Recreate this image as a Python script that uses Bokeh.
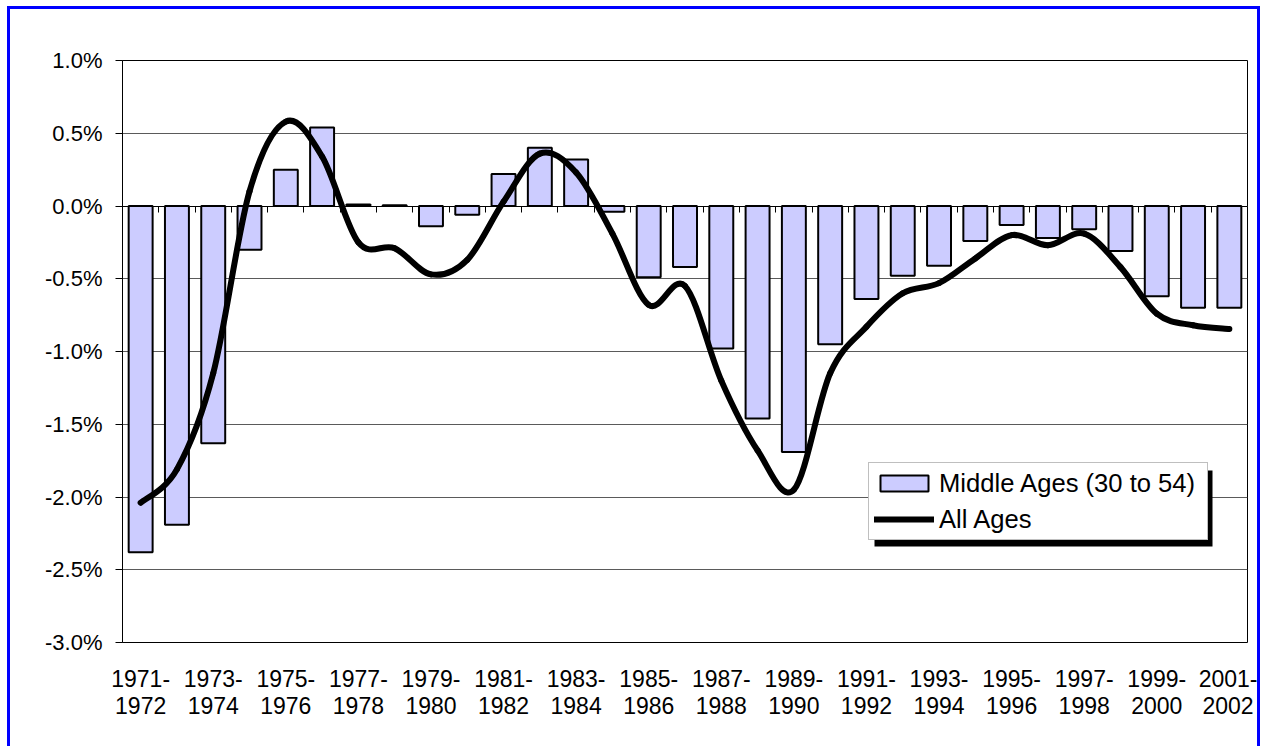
from bokeh.plotting import figure
from bokeh.models import (ColumnDataSource, FixedTicker, PrintfTickFormatter, LinearAxis,
                          Legend, LegendItem, Range1d, CustomLabelingPolicy, BoxAnnotation)
from bokeh.embed import file_html
from bokeh.resources import INLINE

# ---------------- data ----------------
periods = ["1971-1972", "1972-1973", "1973-1974", "1974-1975", "1975-1976", "1976-1977",
           "1977-1978", "1978-1979", "1979-1980", "1980-1981", "1981-1982", "1982-1983",
           "1983-1984", "1984-1985", "1985-1986", "1986-1987", "1987-1988", "1988-1989",
           "1989-1990", "1990-1991", "1991-1992", "1992-1993", "1993-1994", "1994-1995",
           "1995-1996", "1996-1997", "1997-1998", "1998-1999", "1999-2000", "2000-2001",
           "2001-2002"]

middle_ages = [-2.38, -2.19, -1.63, -0.30, 0.25, 0.54, 0.01, 0.005, -0.14, -0.06,
               0.22, 0.40, 0.32, -0.04, -0.49, -0.42, -0.98, -1.46, -1.69, -0.95,
               -0.64, -0.48, -0.41, -0.24, -0.13, -0.22, -0.16, -0.31, -0.62, -0.70,
               -0.70]

all_ages = [-2.04, -1.81, -1.15, 0.10, 0.58, 0.34, -0.25, -0.29, -0.47, -0.37,
            0.03, 0.36, 0.23, -0.19, -0.68, -0.55, -1.20, -1.68, -1.95, -1.15,
            -0.83, -0.60, -0.53, -0.36, -0.20, -0.27, -0.19, -0.42, -0.74, -0.82,
            -0.845]

y_ticks = [-3.0, -2.5, -2.0, -1.5, -1.0, -0.5, 0.0, 0.5, 1.0]
label_every = 2

FONT = "Liberation Sans"

n = len(periods)
xs = list(range(n))

# ---------------- figure ----------------
W, H = 1253, 740
TOP, LEFT, RIGHT, FRAME_H = 51, 112, 16, 582
p = figure(width=W, height=H, output_backend="svg", toolbar_location=None,
           x_range=Range1d(-0.5, n - 0.5), y_range=Range1d(y_ticks[0], y_ticks[-1]),
           min_border_left=LEFT, min_border_right=RIGHT, min_border_top=TOP,
           min_border_bottom=H - TOP - FRAME_H)
p.styles = {"margin-left": "7px", "margin-top": "6px",
            "border-style": "solid", "border-color": "#0000ff",
            "border-width": "3px 3px 0px 3px"}
p.outline_line_color = "black"
p.outline_line_width = 1
p.background_fill_color = "white"
p.border_fill_color = "white"

# bars
bar_src = ColumnDataSource(dict(x=xs, v=middle_ages))
bars = p.vbar(x="x", top="v", bottom=0, width=0.66, source=bar_src,
              fill_color="#CCCCFF", line_color="black", line_width=2)

# smoothed line (Excel-like Catmull-Rom bezier between data points)
x0, y0, x1, y1, cx0, cy0, cx1, cy1 = [], [], [], [], [], [], [], []
for i in range(n - 1):
    ip = max(i - 1, 0)
    inn = min(i + 2, n - 1)
    x0.append(xs[i]); y0.append(all_ages[i])
    x1.append(xs[i + 1]); y1.append(all_ages[i + 1])
    cx0.append(xs[i] + (xs[i + 1] - xs[ip]) / 6.0)
    cy0.append(all_ages[i] + (all_ages[i + 1] - all_ages[ip]) / 6.0)
    cx1.append(xs[i + 1] - (xs[inn] - xs[i]) / 6.0)
    cy1.append(all_ages[i + 1] - (all_ages[inn] - all_ages[i]) / 6.0)
curve_src = ColumnDataSource(dict(x0=x0, y0=y0, x1=x1, y1=y1, cx0=cx0, cy0=cy0, cx1=cx1, cy1=cy1))
curve = p.bezier(x0="x0", y0="y0", x1="x1", y1="y1", cx0="cx0", cy0="cy0", cx1="cx1", cy1="cy1",
                 source=curve_src, line_color="black", line_width=6, line_cap="round")

# y axis
p.yaxis.ticker = FixedTicker(ticks=y_ticks)
p.yaxis.formatter = PrintfTickFormatter(format="%.1f%%")
p.yaxis.major_tick_out = 7
p.yaxis.major_tick_in = 0
p.yaxis.minor_tick_out = 0
p.yaxis.minor_tick_in = 0
p.yaxis.axis_line_color = "black"
p.yaxis.major_tick_line_color = "black"
p.yaxis.major_label_text_font = FONT
p.yaxis.major_label_text_font_size = "22px"
p.yaxis.major_label_text_color = "black"
p.yaxis.major_label_standoff = 13

p.ygrid.ticker = FixedTicker(ticks=y_ticks)
p.ygrid.grid_line_color = "#5a5a5a"
p.ygrid.grid_line_width = 1
p.xgrid.grid_line_color = None

# x axis: category labels at bottom
lab_ticks = xs[::label_every]
p.xaxis.ticker = FixedTicker(ticks=lab_ticks)
p.xaxis.major_label_overrides = {i: periods[i].replace("-", "-\n") for i in lab_ticks}
p.xaxis.axis_line_color = None
p.xaxis.major_tick_out = 0
p.xaxis.major_tick_in = 0
p.xaxis.minor_tick_out = 0
p.xaxis.minor_tick_in = 0
p.xaxis.major_label_text_font = FONT
p.xaxis.major_label_text_font_size = "23px"
p.xaxis.major_label_text_line_height = 1.05
p.xaxis.major_label_text_color = "black"
p.xaxis.major_label_standoff = 23

# zero-line category axis with boundary ticks (no labels)
zero_axis = LinearAxis(fixed_location=0,
                       ticker=FixedTicker(ticks=[i + 0.5 for i in xs[:-1]]),
                       major_tick_in=0, major_tick_out=6, minor_tick_in=0, minor_tick_out=0,
                       axis_line_color="black", major_tick_line_color="black",
                       major_label_standoff=0,
                       major_label_policy=CustomLabelingPolicy(
                           code="for (const i of indices) { indices.unset(i) } return indices"))
p.add_layout(zero_axis, "below")

# legend (fixed size) with drop shadow
LX, LY, LW, LH, SH = 746, 102, 338, 76, 6
PAD, GW, GH, STAND, SP = 5, 60, 20, 5, 6
label_w = LW - 2 * PAD - GW - STAND
label_h = (LH - 2 * PAD - SP) // 2

shadow = BoxAnnotation(left=LX + SH, right=LX + LW + SH, bottom=LY - SH, top=LY + LH - SH,
                       left_units="screen", right_units="screen", bottom_units="screen",
                       top_units="screen", fill_color="black", fill_alpha=1.0,
                       line_color=None, level="annotation")
p.add_layout(shadow)

legend = Legend(items=[LegendItem(label="Middle Ages (30 to 54)", renderers=[bars]),
                       LegendItem(label="All Ages", renderers=[curve], index=0)],
                location=(LX, LY), orientation="vertical",
                border_line_color="#808080", border_line_width=1,
                background_fill_color="white", background_fill_alpha=1,
                label_text_font=FONT, label_text_font_size="25.6px", label_text_color="black",
                glyph_width=GW, glyph_height=GH, label_standoff=STAND, padding=PAD,
                spacing=SP, margin=0, label_width=label_w, label_height=label_h)
p.add_layout(legend)

open("out.html", "w").write(file_html(p, INLINE))
